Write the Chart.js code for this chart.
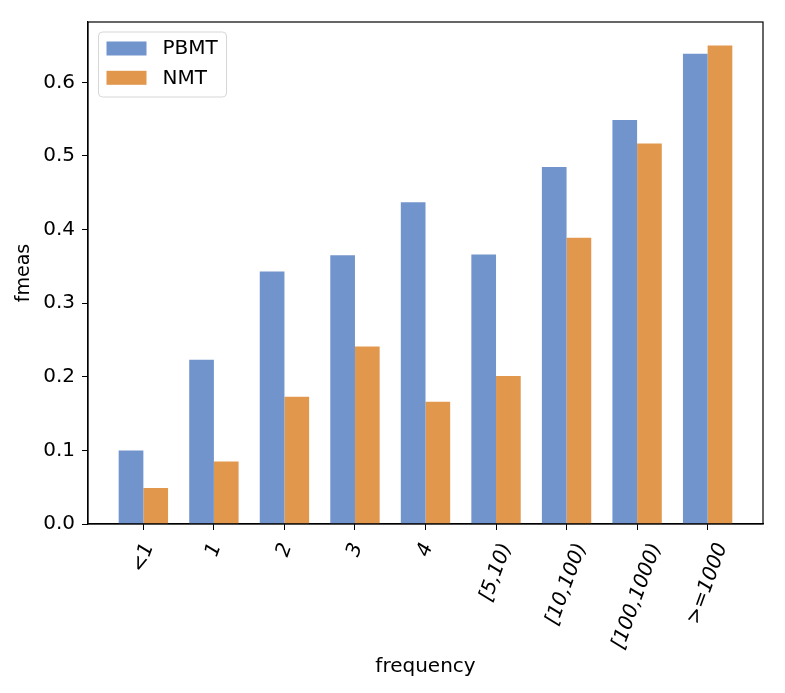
<!DOCTYPE html>
<html>
<head>
<meta charset="utf-8">
<script src="https://cdn.jsdelivr.net/npm/chart.js@4/dist/chart.umd.min.js"></script>
<style>
  html, body { margin: 0; padding: 0; background: #ffffff; }
  #wrap { width: 785px; height: 693px; }
</style>
</head>
<body>
<div id="wrap"><canvas id="c" width="785" height="693"></canvas></div>
<script>
// ---- data ----
const categories = ['<1', '1', '2', '3', '4', '[5,10)', '[10,100)', '[100,1000)', '>=1000'];
const pbmtValues = [0.100, 0.223, 0.343, 0.365, 0.437, 0.366, 0.485, 0.549, 0.639];
const nmtValues  = [0.049, 0.085, 0.173, 0.241, 0.166, 0.201, 0.389, 0.517, 0.650];
const yTicks = [0.0, 0.1, 0.2, 0.3, 0.4, 0.5, 0.6];
const seriesNames = ['PBMT', 'NMT'];

const BLUE = 'rgb(114,148,204)';
const ORANGE = 'rgb(225,151,76)';
const FONT = 'DejaVu Sans';

const toXY = vals => vals.map((v, i) => ({ x: i, y: v }));

// frame (top/right spines) + legend
const framePlugin = {
  id: 'frame',
  beforeDraw(chart) {
    // center rotated x tick labels on their ticks (matplotlib-like)
    const xs = chart.scales.x;
    const items = xs.getLabelItems();
    const ctx = chart.ctx;
    items.forEach(it => {
      if (it._shifted) return;
      ctx.save();
      ctx.font = it.font.string;
      const w = ctx.measureText(it.label).width;
      ctx.restore();
      const th = 70 * Math.PI / 180;
      it.options.translation[0] += 0.5 * Math.cos(th) * w;
      it._shifted = true;
    });
  },
  afterDraw(chart) {
    const { ctx, chartArea: a } = chart;
    ctx.save();
    ctx.strokeStyle = '#000';
    ctx.lineWidth = 1.2;
    ctx.strokeRect(a.left, a.top, a.right - a.left, a.bottom - a.top);
    // legend
    const bx = a.left + 10.5, by = a.top + 10, bw = 128, bh = 65, r = 4;
    ctx.beginPath();
    ctx.moveTo(bx + r, by);
    ctx.lineTo(bx + bw - r, by);
    ctx.quadraticCurveTo(bx + bw, by, bx + bw, by + r);
    ctx.lineTo(bx + bw, by + bh - r);
    ctx.quadraticCurveTo(bx + bw, by + bh, bx + bw - r, by + bh);
    ctx.lineTo(bx + r, by + bh);
    ctx.quadraticCurveTo(bx, by + bh, bx, by + bh - r);
    ctx.lineTo(bx, by + r);
    ctx.quadraticCurveTo(bx, by, bx + r, by);
    ctx.closePath();
    ctx.fillStyle = 'rgba(255,255,255,0.8)';
    ctx.fill();
    ctx.strokeStyle = '#d6d6d6';
    ctx.lineWidth = 1;
    ctx.stroke();
    chart.data.datasets.forEach((ds, i) => {
      const y0 = by + 9.5 + i * 29.3;
      ctx.fillStyle = ds.backgroundColor;
      ctx.fillRect(bx + 8, y0, 40, 14);
      ctx.fillStyle = '#000';
      ctx.font = '20px "' + FONT + '"';
      ctx.textBaseline = 'middle';
      ctx.textAlign = 'left';
      ctx.fillText(ds.label, bx + 64, y0 + 7.5);
    });
    ctx.restore();
  }
};

new Chart(document.getElementById('c'), {
  type: 'bar',
  data: {
    datasets: [
      { label: seriesNames[0], data: toXY(pbmtValues), backgroundColor: BLUE, borderWidth: 0 },
      { label: seriesNames[1], data: toXY(nmtValues), backgroundColor: ORANGE, borderWidth: 0 }
    ]
  },
  options: {
    responsive: false,
    animation: false,
    devicePixelRatio: 1,
    layout: { padding: { top: 22, right: 22, left: 0, bottom: 0 } },
    datasets: { bar: { categoryPercentage: 0.7, barPercentage: 1.0 } },
    plugins: { legend: { display: false }, tooltip: { enabled: false } },
    scales: {
      x: {
        type: 'linear',
        offset: false,
        min: -0.785,
        max: categories.length - 1 + 0.785,
        afterBuildTicks: axis => { axis.ticks = categories.map((c, i) => ({ value: i })); },
        afterFit: axis => { axis.height = 169; },
        grid: { display: true, drawOnChartArea: false, drawTicks: true, tickLength: 6, color: '#000', offset: false },
        border: { display: true, color: '#000', width: 1.2 },
        ticks: {
          autoSkip: false,
          minRotation: 70,
          maxRotation: 70,
          padding: 10,
          color: '#000',
          font: { family: FONT, size: 20, style: 'italic' },
          callback: v => categories[v]
        },
        title: {
          display: true,
          text: 'frequency',
          color: '#000',
          font: { family: FONT, size: 20 },
          padding: { top: 0, bottom: 14 }
        }
      },
      y: {
        type: 'linear',
        min: 0,
        max: 0.682,
        afterBuildTicks: axis => { axis.ticks = yTicks.map(v => ({ value: v })); },
        afterFit: axis => { axis.width = 88; },
        grid: { display: true, drawOnChartArea: false, drawTicks: true, tickLength: 6, color: '#000' },
        border: { display: true, color: '#000', width: 1.2 },
        ticks: {
          padding: 7,
          color: '#000',
          font: { family: FONT, size: 20 },
          callback: v => Number(v).toFixed(1)
        },
        title: {
          display: true,
          text: 'fmeas',
          color: '#000',
          font: { family: FONT, size: 19 },
          padding: { top: 13, bottom: 0 }
        }
      }
    }
  },
  plugins: [framePlugin]
});
</script>
</body>
</html>
